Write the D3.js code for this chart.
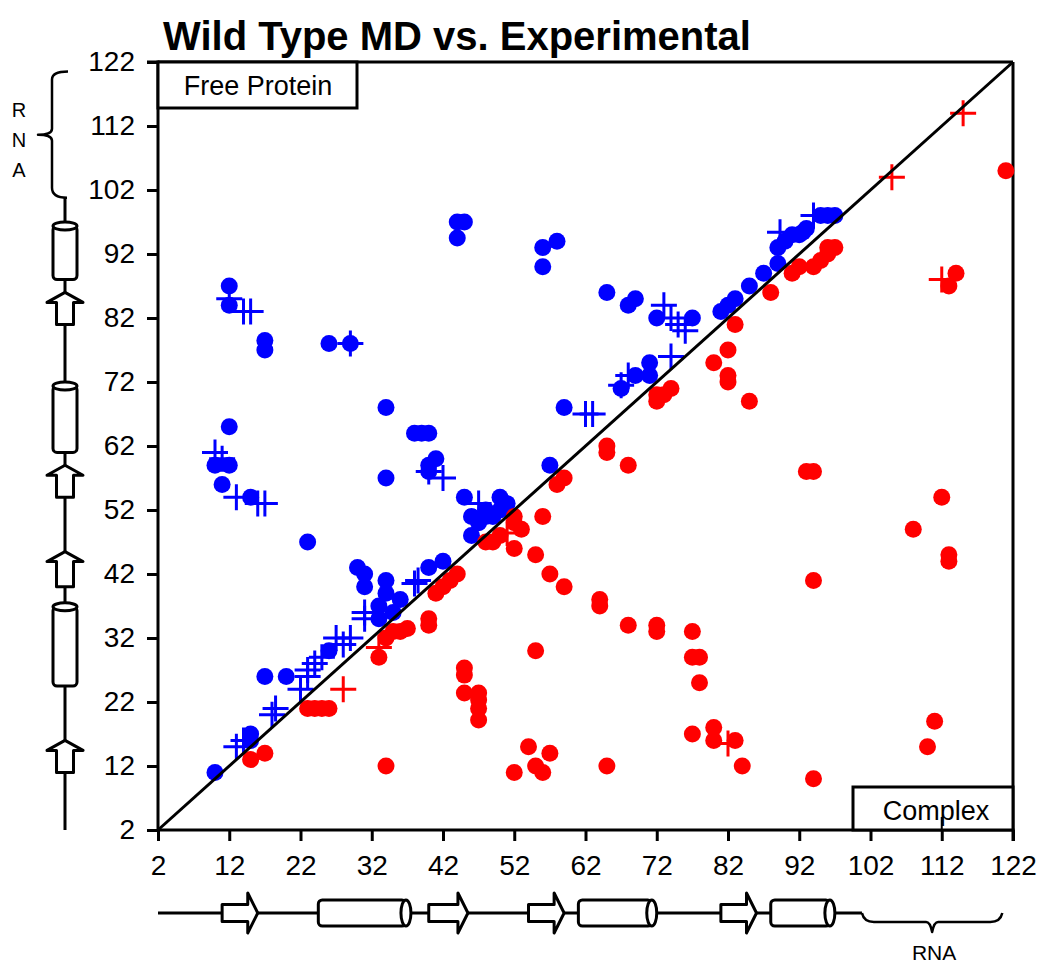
<!DOCTYPE html>
<html><head><meta charset="utf-8">
<script src="https://cdn.jsdelivr.net/npm/d3@7"></script>
<style>body{margin:0;background:#fff}svg{display:block}text{font-family:"Liberation Sans",Arial,sans-serif}</style>
</head><body>
<svg id="c" width="1050" height="970"></svg>
<script>
const tickValues = [2,12,22,32,42,52,62,72,82,92,102,112,122];
const titleText = "Wild Type MD vs. Experimental";

// Free protein (blue) contacts
const freeCircles = [
 [10,11],[12,87],[12,84],[17,78.5],[17,77],[26,78],[29,78],[44,97],[45,97],[44,94.5],
 [34,68],[38,64],[39,64],[40,64],[12,65],[10,59],[12,59],[11,56],[15,54],[23,47],[34,57],
 [40,59],[41,60],[40,58],[45,54],[46,51],[46,48],[47,50],[48,52],[49,51],[50,54],[51,53],[50,52],[48,51],
 [30,43],[31,42],[31,40],[34,41],[34,39],[36,38],[33,37],[33,35],[35,36],[40,43],[42,44],
 [26,30],[20,26],[17,26],[15,17],[15,16],
 [56,93],[58,94],[56,90],[65,86],[68,84],[69,85],[72,82],[77,82],[81,83],[82,84],[83,85],
 [85,87],[87,89],[89,90.5],[89,93],[90,94],[91,95],[92,95],[93,96],[92.5,95.4],[95,98],[96,98],[97,98],
 [59,68],[67,71],[69,73],[71,75],[71,73],[57,59]
];
const freeCrosses = [
 [12,85],[14,83],[15,83],[29,78],[10,61],[11,60],[13,54],[16,53],[17,53],[40,58],[42,57],[47,53],
 [38,40.5],[38.5,41],[31,36],[31,35],[27,32],[28,31],[29,32],[22,24],[23,26],[23,27],[24,28],[25,29],
 [13,15],[14,16],[18,20],[18.5,21],[73,84],[74,82],[75,81],[76,80],[62,67],[63,67],[67,71.5],[68,73],[74,76],[94,98],[89.3,95.4]
];
// Complex (red) contacts
const complexCircles = [
 [15,13],[17,14],[23,21],[24,21],[25,21],[26,21],[34,12],[33,29],[34,32],[35,33],[36,33],[37,33.5],
 [40,35],[40,34],[41,39],[42,40],[43,41],[44,42],[45,27.3],[45,26.2],[45,23.4],[47,23.4],[47,22.3],[47,21],[47,19.2],
 [48,47],[49,47],[50,48],[52,51],[52,50],[53,49],[52,46],[56,51],[55,45],[57,42],[59,40],[64,38],[64,37],
 [68,34],[72,34],[72,33],[77,33],[77,29],[78,29],[78,25],[55,30],
 [54,15],[57,14],[55,12],[56,11],[52,11],[65,12],[77,17],[80,18],[80,16],[83,16],[84,12],
 [58,56],[59,57],[65,62],[65,61],[68,59],[72,69],[73,70],[74,71],[72,70],[80,75],[82,77],[82,73],[82,72],
 [85,69],[83,81],[88,86],[91,89],[92,90],[94,90],[95,91],[96,92],[96,93],[97,93],
 [93,58],[94,58],[121,105],[114,89],[113,87],[112,54],[108,49],[113,45],[113,44],[94,41],[111,19],[110,15],[94,10]
];
const complexCrosses = [[28,24],[33,30.5],[51,48.4],[82,15.5],[105,104],[115,114],[112,88]];

// Secondary structure (residue ranges)
const strands = [[11,16],[40,45.5],[54,59],[81,86]];
const helices = [[24.5,37.5],[61,72],[88,97]];
const chainRange = [2,100.8];
const rnaRange = [100.8,120.5];

const svg = d3.select("#c");
const x = d3.scaleLinear().domain([2,122]).range([158,1013]);
const y = d3.scaleLinear().domain([2,122]).range([830,62]);
const BLUE="#0000ff", RED="#ff0000";

// title
svg.append("text").attr("x",163).attr("y",50).attr("font-size",40).attr("font-weight","bold").text(titleText);

// frame
const frame = svg.append("g").attr("stroke","#000").attr("stroke-width",3).attr("fill","none");
frame.append("line").attr("x1",x(2)).attr("x2",x(122)).attr("y1",y(122)).attr("y2",y(122));
frame.append("line").attr("x1",x(122)).attr("x2",x(122)).attr("y1",y(122)).attr("y2",y(2));

// axes
const yAxis = svg.append("g").attr("transform",`translate(${x(2)},0)`)
  .call(d3.axisLeft(y).tickValues(tickValues).tickSize(11).tickPadding(12).tickFormat(d3.format("d")));
const xAxis = svg.append("g").attr("transform",`translate(0,${y(2)})`)
  .call(d3.axisBottom(x).tickValues(tickValues).tickSize(11).tickPadding(14).tickFormat(d3.format("d")));
[yAxis,xAxis].forEach(a=>{
  a.select(".domain").attr("stroke","#000").attr("stroke-width",3);
  a.selectAll(".tick line").attr("stroke","#000").attr("stroke-width",3);
  a.selectAll(".tick text").attr("font-size",28).attr("fill","#000").attr("font-family","'Liberation Sans',Arial,sans-serif");
});
yAxis.select(".domain").attr("d",`M-11,${y(122)}H0V${y(2)}`);
xAxis.select(".domain").attr("d",`M${x(2)},0H${x(122)}V11`);

// markers
const plot = svg.append("g");
function circles(data,color){
  plot.selectAll(null).data(data).enter().append("circle")
    .attr("cx",d=>x(d[0])).attr("cy",d=>y(d[1])).attr("r",8.5).attr("fill",color);
}
function crosses(data,color){
  plot.selectAll(null).data(data).enter().append("path")
    .attr("d",d=>`M${x(d[0])-13},${y(d[1])}h26M${x(d[0])},${y(d[1])-13}v26`)
    .attr("stroke",color).attr("stroke-width",3).attr("fill","none");
}
circles(freeCircles,BLUE); circles(complexCircles,RED);
crosses(freeCrosses,BLUE); crosses(complexCrosses,RED);

// diagonal
svg.append("line").attr("x1",x(2)).attr("y1",y(2)).attr("x2",x(122)).attr("y2",y(122))
  .attr("stroke","#000").attr("stroke-width",3);

// labels boxes
svg.append("rect").attr("x",x(2)).attr("y",y(122)).attr("width",199).attr("height",46)
  .attr("fill","#fff").attr("stroke","#000").attr("stroke-width",3);
svg.append("text").attr("x",x(2)+100).attr("y",y(122)+33).attr("text-anchor","middle").attr("font-size",27).text("Free Protein");
svg.append("rect").attr("x",853).attr("y",787).attr("width",x(122)-853).attr("height",y(2)-787)
  .attr("fill","#fff").attr("stroke","#000").attr("stroke-width",3);
svg.append("text").attr("x",936).attr("y",820).attr("text-anchor","middle").attr("font-size",27).text("Complex");
svg.append("line").attr("x1",x(112)).attr("x2",x(112)).attr("y1",817).attr("y2",y(2)).attr("stroke","#000").attr("stroke-width",2);

// secondary structure: bottom
const ss = svg.append("g").attr("stroke","#000").attr("stroke-width",3).attr("fill","#fff").attr("stroke-linejoin","round");
const cy = 913, cx = 65;
ss.append("line").attr("x1",x(chainRange[0])).attr("x2",x(chainRange[1])).attr("y1",cy).attr("y2",cy);
strands.forEach(s=>{
  const a=x(s[0]), t=x(s[1]), h=t-10;
  ss.append("path").attr("d",`M${a},${cy-8.5}H${h}V${cy-20}L${t},${cy}L${h},${cy+20}V${cy+8.5}H${a}Z`);
});
helices.forEach(s=>{
  const a=x(s[0]), b=x(s[1]);
  ss.append("rect").attr("x",a).attr("y",cy-13).attr("width",b-a-5).attr("height",26).attr("rx",4);
  ss.append("ellipse").attr("cx",b-5).attr("cy",cy).attr("rx",5).attr("ry",13);
});
{
  const a=x(rnaRange[0]), b=x(rnaRange[1]), m=(a+b)/2;
  ss.append("path").attr("fill","none").attr("stroke-width",2.5)
    .attr("d",`M${a},${cy}Q${a+2},${cy+9} ${a+12},${cy+9}H${m-6}Q${m-2},${cy+9} ${m},${cy+19}Q${m+2},${cy+9} ${m+6},${cy+9}H${b-12}Q${b-2},${cy+9} ${b},${cy}`);
  svg.append("text").attr("x",m+2).attr("y",960).attr("text-anchor","middle").attr("font-size",21).text("RNA");
}
// left
ss.append("line").attr("y1",y(chainRange[0])).attr("y2",y(chainRange[1])).attr("x1",cx).attr("x2",cx);
strands.forEach(s=>{
  const a=y(s[0]), t=y(s[1]), h=t+10;
  ss.append("path").attr("d",`M${cx-8.5},${a}V${h}H${cx-18}L${cx},${t}L${cx+18},${h}H${cx+8.5}V${a}Z`);
});
helices.forEach(s=>{
  const a=y(s[0]), b=y(s[1]);
  ss.append("rect").attr("x",cx-12).attr("y",b+4).attr("width",24).attr("height",a-b-4).attr("rx",4);
  ss.append("ellipse").attr("cx",cx).attr("cy",b+4).attr("rx",12).attr("ry",4);
});
{
  const a=y(rnaRange[0]), b=y(rnaRange[1]), m=(a+b)/2, bx=cx-13;
  ss.append("path").attr("fill","none").attr("stroke-width",2.5)
    .attr("d",`M${cx+2},${a}Q${bx},${a} ${bx},${a-10}V${m+6}Q${bx},${m} ${bx-14},${m}Q${bx},${m} ${bx},${m-6}V${b+8}Q${bx},${b} ${cx+3},${b}`);
  ["R","N","A"].forEach((ch,i)=>svg.append("text").attr("x",19).attr("y",117+i*30).attr("text-anchor","middle").attr("font-size",20).text(ch));
}
</script>
</body></html>
